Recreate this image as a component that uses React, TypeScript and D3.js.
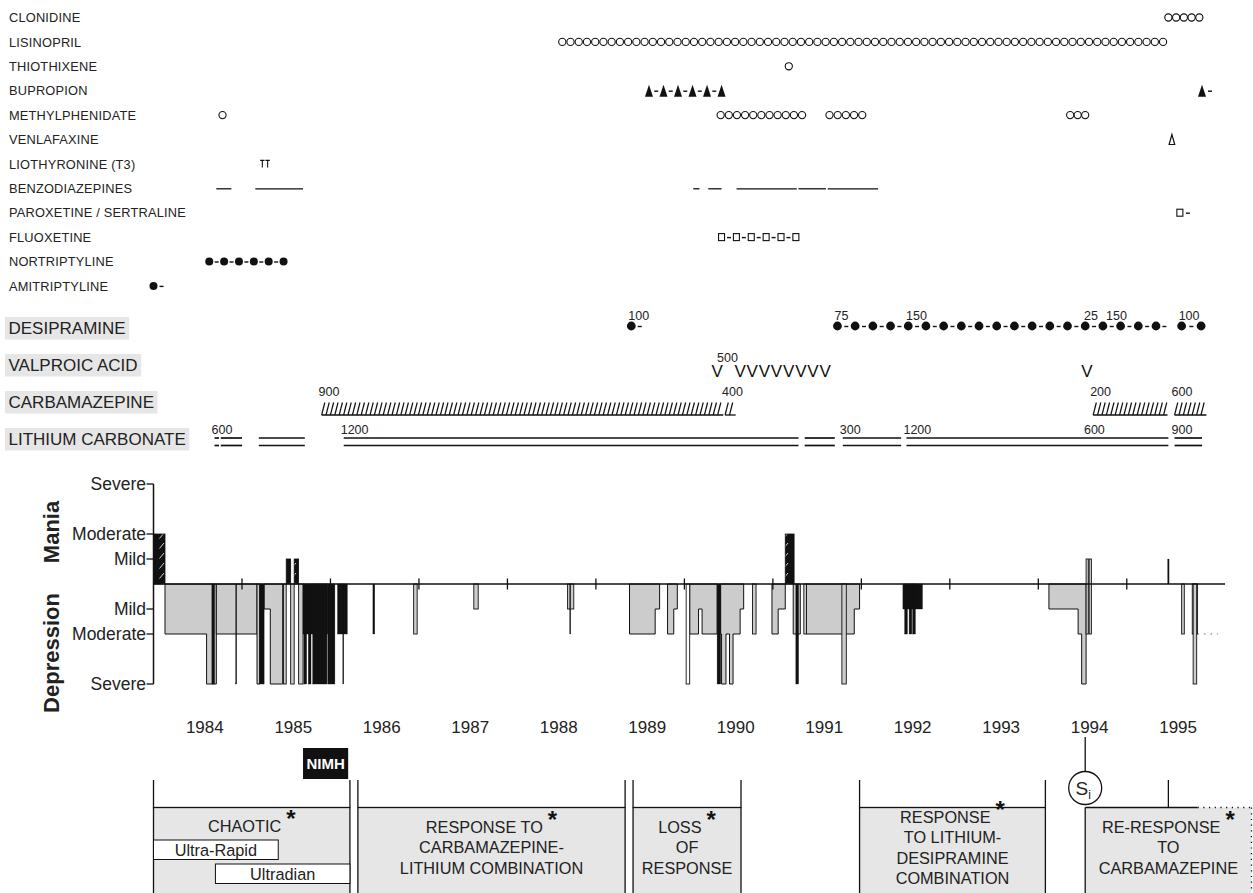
import React, { useLayoutEffect, useRef, useState } from 'react';
import * as d3 from 'd3';

const W = 1253;
const H = 893;
const FONT = "'Liberation Sans', Arial, Helvetica, sans-serif";
const INK = '#111';
const TEXT = '#222';

// ---------------- data (decimal years) ----------------
const yearLabels = [1984, 1985, 1986, 1987, 1988, 1989, 1990, 1991, 1992, 1993, 1994, 1995];
const yearTicks = [1985, 1986, 1987, 1988, 1989, 1990, 1991, 1992, 1993, 1994, 1995];

// runs: [first glyph, last glyph, glyph count, trailing dash]
type Run = [number, number, number, number?];
const clonidine: Run[] = [[1995.47, 1995.82, 5]];
const lisinopril: Run[] = [[1988.62, 1995.41, 74]];
const thiothixene: Run[] = [[1991.18, 1991.18, 1]];
const bupropion: Run[] = [[1989.6, 1990.42, 6], [1995.85, 1995.85, 1, 1]];
const methylphenidate: Run[] = [
  [1984.78, 1984.78, 1], [1990.41, 1991.33, 11], [1991.64, 1992.01, 5], [1994.36, 1994.53, 3],
];
const venlafaxine: Run[] = [[1995.51, 1995.51, 1]];
const liothyronine = [1985.23, 1985.29];
const benzodiazepines: [number, number][] = [
  [1984.71, 1984.88], [1985.15, 1985.69], [1990.1, 1990.17], [1990.27, 1990.42],
  [1990.59, 1991.27], [1991.29, 1991.6], [1991.62, 1992.19],
];
const paroxetine: Run[] = [[1995.6, 1995.6, 1, 1]];
const fluoxetine: Run[] = [[1990.42, 1991.26, 6]];
const nortriptyline: Run[] = [[1984.63, 1985.47, 6]];
const amitriptyline: Run[] = [[1984.0, 1984.0, 1, 1]];

const desipramine: Run[] = [[1989.4, 1989.4, 1, 1], [1991.73, 1995.33, 19, 1], [1995.62, 1995.84, 2]];
const desipramineDoses: [number, string][] = [
  [1989.4, '100'], [1991.73, '75'], [1992.54, '150'], [1994.55, '25'], [1994.8, '150'], [1995.62, '100'],
];
const valproic: Run[] = [[1990.37, 1990.37, 1], [1990.63, 1991.59, 8], [1994.55, 1994.55, 1]];
const valproicDoses: [number, string][] = [[1990.37, '500']];
const carbamazepine: [number, number][] = [[1985.9, 1990.44], [1990.46, 1990.58], [1994.62, 1995.46], [1995.54, 1995.9]];
const carbamazepineDoses: [number, string][] = [[1985.9, '900'], [1990.46, '400'], [1994.62, '200'], [1995.54, '600']];
const lithium: [number, number][] = [
  [1984.69, 1984.74], [1984.76, 1985.0], [1985.19, 1985.71], [1986.15, 1991.29], [1991.36, 1991.7],
  [1991.79, 1992.45], [1992.51, 1995.47], [1995.54, 1995.85],
];
const lithiumDoses: [number, string][] = [
  [1984.69, '600'], [1986.15, '1200'], [1991.79, '300'], [1992.51, '1200'], [1994.55, '600'], [1995.54, '900'],
];

// mood: mild = 1, moderate = 2, severe = 4
const moodLevels: [number, string][] = [[4, 'Severe'], [2, 'Moderate'], [1, 'Mild'], [-1, 'Mild'], [-2, 'Moderate'], [-4, 'Severe']];
const maniaHatched: [number, number, number][] = [[1984.0, 1984.13, 2], [1985.5, 1985.55, 1], [1985.59, 1985.64, 1], [1991.14, 1991.24, 2]];
const maniaSolid: [number, number, number][] = [[1995.46, 1995.48, 1]];
const mixedSpikes: [number, number][] = [[1994.54, 1994.565], [1994.575, 1994.6]];
const depressionEpisodes: [number, number][][] = [
  [[1984.13, 2], [1984.6, 4], [1984.71, 4]],
  [[1984.71, 2], [1985.17, 2]],
  [[1985.17, 4], [1985.2, 4]],
  [[1985.25, 1], [1985.32, 4], [1985.46, 4]],
  [[1989.38, 2], [1989.67, 1], [1989.72, 1]],
  [[1989.81, 2], [1989.88, 1], [1989.92, 1]],
  [[1990.06, 2], [1990.16, 1], [1990.2, 2], [1990.37, 2]],
  [[1990.41, 2], [1990.42, 4], [1990.47, 2], [1990.51, 4], [1990.55, 2], [1990.63, 1], [1990.67, 1]],
  [[1990.99, 2], [1991.06, 1], [1991.14, 1]],
  [[1991.23, 2], [1991.31, 2]],
  [[1991.38, 2], [1991.92, 1], [1991.98, 1]],
  [[1994.12, 1], [1994.45, 2], [1994.49, 4], [1994.54, 4]],
];
const depressionBars: [number, number, number, string][] = [
  [1984.66, 1984.69, 4, 'black'], [1984.93, 1984.94, 4, 'black'], [1985.2, 1985.25, 4, 'black'],
  [1985.47, 1985.5, 4, 'grey'], [1985.55, 1985.59, 4, 'grey'], [1985.64, 1985.69, 4, 'grey'],
  [1985.69, 1985.97, 2, 'black'], [1985.7, 1985.73, 4, 'black'], [1985.75, 1985.78, 4, 'black'],
  [1985.8, 1985.96, 4, 'black'], [1985.97, 1986.05, 4, 'black'], [1986.08, 1986.19, 2, 'black'],
  [1986.14, 1986.15, 4, 'black'], [1986.48, 1986.5, 2, 'black'], [1986.94, 1986.98, 2, 'grey'],
  [1987.62, 1987.67, 1, 'grey'], [1988.68, 1988.75, 1, 'grey'], [1988.705, 1988.715, 2, 'black'],
  [1990.02, 1990.06, 4, 'white'], [1990.37, 1990.41, 4, 'black'], [1990.77, 1990.81, 2, 'grey'],
  [1991.26, 1991.29, 4, 'black'], [1991.35, 1991.38, 2, 'grey'], [1991.78, 1991.83, 4, 'grey'],
  [1992.47, 1992.69, 1, 'black'], [1992.49, 1992.52, 2, 'black'], [1992.54, 1992.57, 2, 'black'],
  [1992.58, 1992.61, 2, 'black'], [1995.62, 1995.65, 2, 'grey'], [1995.74, 1995.8, 2, 'light'],
  [1995.75, 1995.79, 4, 'grey'],
];
const depressionDotted: [number, number, number] = [1995.8, 1996.03, 2];

// course phases
const phases: { from: number; to: number; lines: string[] }[] = [
  { from: 1984.0, to: 1986.22, lines: ['CHAOTIC'] },
  { from: 1986.31, to: 1989.33, lines: ['RESPONSE TO', 'CARBAMAZEPINE-', 'LITHIUM COMBINATION'] },
  { from: 1989.42, to: 1990.64, lines: ['LOSS', 'OF', 'RESPONSE'] },
  { from: 1991.98, to: 1994.08, lines: ['RESPONSE', 'TO LITHIUM-', 'DESIPRAMINE', 'COMBINATION'] },
  { from: 1994.53, to: 1996.42, lines: ['RE-RESPONSE', 'TO', 'CARBAMAZEPINE'] },
];
const chaoticBands: [string, number, number][] = [['Ultra-Rapid', 1984.0, 1985.41], ['Ultradian', 1984.7, 1986.22]];
const nimhStay: [number, number] = [1985.69, 1986.2];
const stimulantMark = 1994.53;
const reResponseStem = 1995.47;
const reResponseSolidEnd = 1995.8;

// ---------------- chart ----------------
const x = d3.scaleLinear().domain([1984, 1996.11]).range([153.5, 1225]);
const y = d3.scaleLinear().domain([-4, 4]).range([684, 484]);
const rowY = (i: number) => 17.5 + i * 24.4;

function runCenters(r: Run): number[] {
  const [a, b, n] = r;
  const xa = x(a);
  const xb = x(b);
  return n === 1 ? [xa] : d3.range(n).map((i) => xa + ((xb - xa) * i) / (n - 1));
}

function Glyphs({ runs, kind, cy, r = 4 }: { runs: Run[]; kind: string; cy: number; r?: number }) {
  const out: React.ReactNode[] = [];
  runs.forEach((run, ri) => {
    const cs = runCenters(run);
    const dashed = kind !== 'circle' && kind !== 'open-tri';
    cs.forEach((cx, i) => {
      const k = `${ri}-${i}`;
      if (kind === 'circle') out.push(<circle key={k} cx={cx} cy={cy} r={3.6} fill="none" stroke={INK} strokeWidth={1.1} />);
      if (kind === 'dot') out.push(<circle key={k} cx={cx} cy={cy} r={r} fill={INK} />);
      if (kind === 'tri')
        out.push(<path key={k} d={`M${cx - 4},${cy + 6}L${cx},${cy - 6}L${cx + 4},${cy + 6}Z`} fill={INK} />);
      if (kind === 'open-tri')
        out.push(<path key={k} d={`M${cx - 2.8},${cy + 5}L${cx},${cy - 5}L${cx + 2.8},${cy + 5}Z`} fill="none" stroke={INK} strokeWidth={1.2} />);
      if (kind === 'square')
        out.push(<rect key={k} x={cx - 3} y={cy - 3.5} width={6} height={7} fill="none" stroke={INK} strokeWidth={1.1} />);
      if (dashed && i < cs.length - 1) {
        const m = (cx + cs[i + 1]) / 2;
        out.push(<line key={k + 'd'} x1={m - 2} x2={m + 2} y1={cy + 0.5} y2={cy + 0.5} stroke={INK} strokeWidth={1.4} />);
      }
      if (dashed && i === cs.length - 1 && run[3]) {
        out.push(<line key={k + 't'} x1={cx + r + 2} x2={cx + r + 6} y1={cy + 0.5} y2={cy + 0.5} stroke={INK} strokeWidth={1.4} />);
      }
    });
  });
  return <g>{out}</g>;
}

function BoxedLabel({ text, cy }: { text: string; cy: number }) {
  const ref = useRef<SVGTextElement>(null);
  const [w, setW] = useState(0);
  useLayoutEffect(() => {
    if (ref.current) setW(ref.current.getBBox().width);
  }, []);
  return (
    <g>
      <rect x={5} y={cy - 11} width={w + 7} height={22.5} fill="#e6e6e6" />
      <text ref={ref} x={8.5} y={cy + 6} fontSize={17} fill={TEXT}>{text}</text>
    </g>
  );
}

function DoseLabels({ doses, base, dx = -3 }: { doses: [number, string][]; base: number; dx?: number }) {
  return (
    <g>
      {doses.map(([t, s], i) => (
        <text key={i} x={x(t) + dx} y={base} fontSize={12.5} fill={TEXT}>{s}</text>
      ))}
    </g>
  );
}

export default function App() {
  const rows: { name: string; kind: string; runs?: Run[] }[] = [
    { name: 'CLONIDINE', kind: 'circle', runs: clonidine },
    { name: 'LISINOPRIL', kind: 'circle', runs: lisinopril },
    { name: 'THIOTHIXENE', kind: 'circle', runs: thiothixene },
    { name: 'BUPROPION', kind: 'tri', runs: bupropion },
    { name: 'METHYLPHENIDATE', kind: 'circle', runs: methylphenidate },
    { name: 'VENLAFAXINE', kind: 'open-tri', runs: venlafaxine },
    { name: 'LIOTHYRONINE (T3)', kind: 'T' },
    { name: 'BENZODIAZEPINES', kind: 'line' },
    { name: 'PAROXETINE / SERTRALINE', kind: 'square', runs: paroxetine },
    { name: 'FLUOXETINE', kind: 'square', runs: fluoxetine },
    { name: 'NORTRIPTYLINE', kind: 'dot', runs: nortriptyline },
    { name: 'AMITRIPTYLINE', kind: 'dot', runs: amitriptyline },
  ];

  const stepArea = d3
    .area<[number, number]>()
    .x((d) => x(d[0]))
    .y0(y(0))
    .y1((d) => y(-d[1]))
    .curve(d3.curveStepAfter);

  const fillOf: Record<string, string> = { black: INK, grey: '#cccccc', white: '#ffffff', light: '#dedede' };

  const stemTop = 780;
  const boxTop = 807.5;

  return (
    <svg width={W} height={H} style={{ position: 'absolute', left: 0, top: 0, fontFamily: FONT }}>
      <defs>
        <pattern id="maniaHatch" patternUnits="userSpaceOnUse" width={12} height={10}>
          <rect width={12} height={10} fill={INK} />
          <line x1={3.5} y1={8.5} x2={8} y2={3} stroke="#fff" strokeWidth={0.8} />
        </pattern>
      </defs>

      {/* medication rows */}
      {rows.map((row, i) => {
        const cy = rowY(i);
        return (
          <g key={row.name}>
            <text x={9} y={cy + 4.6} fontSize={12.8} letterSpacing={0.2} fill={TEXT}>{row.name}</text>
            {row.runs && <Glyphs runs={row.runs} kind={row.kind} cy={cy} />}
            {row.kind === 'T' &&
              liothyronine.map((t, j) => (
                <path key={j} d={`M${x(t) - 2.2},${cy - 3.5}H${x(t) + 2.2}M${x(t)},${cy - 3.5}V${cy + 3.5}`}
                  stroke={INK} strokeWidth={1.1} fill="none" />
              ))}
            {row.kind === 'line' &&
              benzodiazepines.map(([a, b], j) => (
                <line key={j} x1={x(a)} x2={x(b)} y1={cy + 0.5} y2={cy + 0.5} stroke={INK} strokeWidth={1.3} />
              ))}
          </g>
        );
      })}

      {/* principal treatments */}
      <BoxedLabel text="DESIPRAMINE" cy={328} />
      <BoxedLabel text="VALPROIC ACID" cy={365} />
      <BoxedLabel text="CARBAMAZEPINE" cy={402} />
      <BoxedLabel text="LITHIUM CARBONATE" cy={439} />

      <Glyphs runs={desipramine} kind="dot" cy={326} r={4.4} />
      <DoseLabels doses={desipramineDoses} base={319.5} />

      {valproic.map((run, i) =>
        runCenters(run).map((cx, j) => (
          <text key={`${i}-${j}`} x={cx} y={377} fontSize={17} textAnchor="middle" fill={INK}>V</text>
        ))
      )}
      <DoseLabels doses={valproicDoses} base={361.5} dx={0} />

      {carbamazepine.map(([a, b], i) => (
        <g key={i}>
          <line x1={x(a)} x2={x(b)} y1={415} y2={415} stroke={INK} strokeWidth={1.3} />
          {d3.range(x(a), x(b) - 2.5, 4.4).map((xi, j) => (
            <line key={j} x1={xi} y1={415} x2={xi + 3.2} y2={402.5} stroke={INK} strokeWidth={1.2} />
          ))}
        </g>
      ))}
      <DoseLabels doses={carbamazepineDoses} base={396} />

      {lithium.map(([a, b], i) => (
        <g key={i}>
          <line x1={x(a)} x2={x(b)} y1={438} y2={438} stroke={INK} strokeWidth={1.7} />
          <line x1={x(a)} x2={x(b)} y1={445.5} y2={445.5} stroke={INK} strokeWidth={1.7} />
        </g>
      ))}
      <DoseLabels doses={lithiumDoses} base={433.5} />

      {/* mood chart */}
      <text transform={`translate(59,532) rotate(-90)`} textAnchor="middle" fontSize={22} fontWeight="bold" fill={TEXT}>Mania</text>
      <text transform={`translate(59,653) rotate(-90)`} textAnchor="middle" fontSize={22} fontWeight="bold" fill={TEXT}>Depression</text>
      {moodLevels.map(([v, s], i) => (
        <g key={i}>
          <text x={146} y={y(v) + 6} textAnchor="end" fontSize={17.5} fill={TEXT}>{s}</text>
          <line x1={146.5} x2={x(1984)} y1={y(v)} y2={y(v)} stroke={INK} strokeWidth={1.3} />
        </g>
      ))}
      <line x1={x(1984)} x2={x(1984)} y1={y(4)} y2={y(-4)} stroke={INK} strokeWidth={1.5} />

      {depressionEpisodes.map((ep, i) => (
        <path key={i} d={stepArea(ep) || ''} fill="#cccccc" stroke={INK} strokeWidth={1} />
      ))}
      {depressionBars.map(([a, b, d, f], i) => (
        <rect key={i} x={x(a)} y={y(0)} width={Math.max(x(b) - x(a), 0.8)} height={y(-d) - y(0)}
          fill={fillOf[f]} stroke={INK} strokeWidth={f === 'black' ? 0.4 : 0.9} />
      ))}
      <line x1={x(depressionDotted[0])} x2={x(depressionDotted[1])} y1={y(-depressionDotted[2])} y2={y(-depressionDotted[2])}
        stroke="#666" strokeWidth={1.2} strokeDasharray="1.5 5" />
      {maniaHatched.map(([a, b, v], i) => (
        <rect key={i} x={x(a)} y={y(v)} width={x(b) - x(a)} height={y(0) - y(v)} fill="url(#maniaHatch)" stroke={INK} strokeWidth={0.8} />
      ))}
      {maniaSolid.map(([a, b, v], i) => (
        <rect key={i} x={x(a)} y={y(v)} width={x(b) - x(a)} height={y(0) - y(v)} fill={INK} />
      ))}
      {mixedSpikes.map(([a, b], i) => (
        <rect key={i} x={x(a)} y={y(1)} width={x(b) - x(a)} height={y(-2) - y(1)} fill="#d0d0d0" stroke={INK} strokeWidth={0.9} />
      ))}

      <line x1={x(1984)} x2={x(1996.11)} y1={y(0)} y2={y(0)} stroke={INK} strokeWidth={1.6} />
      {yearTicks.map((t) => (
        <line key={t} x1={x(t)} x2={x(t)} y1={y(0) - 5.5} y2={y(0) + 5.5} stroke={INK} strokeWidth={1.3} />
      ))}
      {yearLabels.map((t) => (
        <text key={t} x={x(t + 0.58)} y={733} textAnchor="middle" fontSize={17} fill={TEXT}>{t}</text>
      ))}

      {/* NIMH */}
      <rect x={x(nimhStay[0])} y={748} width={x(nimhStay[1]) - x(nimhStay[0])} height={31} fill={INK} />
      <text x={(x(nimhStay[0]) + x(nimhStay[1])) / 2} y={769} textAnchor="middle" fontSize={15} fontWeight="bold" fill="#fff">NIMH</text>

      {/* course phases */}
      {phases.map((p, i) => {
        const x0 = x(p.from);
        const x1 = Math.min(x(p.to), W - 1.5);
        const cx = (x0 + x1) / 2;
        const last = i === phases.length - 1;
        const n = p.lines.length;
        const firstY = i === 0 ? 832 : 853 - (n - 1) * 10;
        return (
          <g key={i}>
            {last ? (
              <>
                <rect x={x0} y={boxTop} width={x1 - x0} height={H - boxTop + 10} fill="#e6e6e6" />
                <line x1={x0} x2={x0} y1={boxTop} y2={H + 5} stroke={INK} strokeWidth={1.3} />
                <line x1={x0} x2={x(reResponseSolidEnd)} y1={boxTop} y2={boxTop} stroke={INK} strokeWidth={1.3} />
                <line x1={x(reResponseSolidEnd)} x2={x1} y1={boxTop} y2={boxTop} stroke={INK} strokeWidth={1.3} strokeDasharray="1.2 4.5" />
                <line x1={x1} x2={x1} y1={boxTop} y2={H + 5} stroke={INK} strokeWidth={1.3} strokeDasharray="1.2 4.5" />
                <line x1={x(reResponseStem)} x2={x(reResponseStem)} y1={stemTop} y2={boxTop} stroke={INK} strokeWidth={1.3} />
              </>
            ) : (
              <>
                <rect x={x0} y={boxTop} width={x1 - x0} height={H - boxTop + 10} fill="#e6e6e6" stroke={INK} strokeWidth={1.3} />
                <line x1={x0} x2={x0} y1={stemTop} y2={boxTop} stroke={INK} strokeWidth={1.3} />
                <line x1={x1} x2={x1} y1={stemTop} y2={boxTop} stroke={INK} strokeWidth={1.3} />
              </>
            )}
            {p.lines.map((s, j) => (
              <text key={j} x={cx} y={firstY + j * 20.3} textAnchor="middle" fontSize={16.3} fill={TEXT}>
                {s}
                {j === 0 && (
                  <tspan dx={5} dy={-5} fontSize={24} fontWeight="bold" fill={INK}>*</tspan>
                )}
              </text>
            ))}
          </g>
        );
      })}
      {chaoticBands.map(([s, a, b], i) => (
        <g key={s}>
          <rect x={x(a)} y={840 + i * 24} width={x(b) - x(a)} height={19.5} fill="#fff" stroke={INK} strokeWidth={1} />
          <text x={(x(a) + x(b)) / 2} y={856 + i * 24} textAnchor="middle" fontSize={16.3} fill={TEXT}>{s}</text>
        </g>
      ))}

      {/* stimulant marker */}
      <line x1={x(stimulantMark)} x2={x(stimulantMark)} y1={737} y2={771.5} stroke={INK} strokeWidth={1.3} />
      <circle cx={x(stimulantMark)} cy={788} r={16.5} fill="#fff" stroke={INK} strokeWidth={1.3} />
      <text x={x(stimulantMark) - 2} y={795} textAnchor="middle" fontSize={19} fill={TEXT}>
        S<tspan fontSize={12} dy={4}>i</tspan>
      </text>
    </svg>
  );
}
